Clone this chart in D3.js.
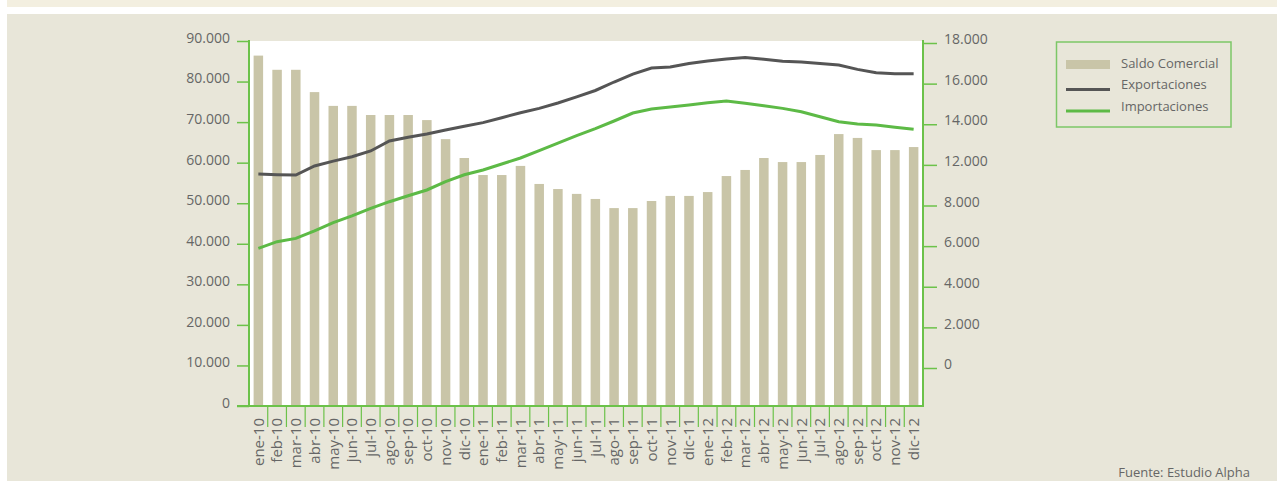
<!DOCTYPE html>
<html><head><meta charset="utf-8">
<script src="https://cdn.jsdelivr.net/npm/d3@7"></script>
<style>
body{margin:0;background:#fff}
svg{display:block}
text{font-family:"Open Sans",sans-serif;fill:#666}
</style></head>
<body><svg id="c" width="1277" height="481"></svg>
<script>
const categories = ["ene-10","feb-10","mar-10","abr-10","may-10","jun-10","jul-10","ago-10","sep-10","oct-10","nov-10","dic-10",
"ene-11","feb-11","mar-11","abr-11","may-11","jun-11","jul-11","ago-11","sep-11","oct-11","nov-11","dic-11",
"ene-12","feb-12","mar-12","abr-12","may-12","jun-12","jul-12","ago-12","sep-12","oct-12","nov-12","dic-12"];
const saldoComercial = [86400,82900,82900,77400,74000,74000,71750,71750,71750,70500,65800,61150,
56950,56950,59200,54750,53500,52300,51050,48800,48800,50550,51800,51800,
52750,56700,58200,61150,60150,60150,61900,67050,66100,63100,63100,63850];
const exportaciones = [10740,10705,10690,11190,11460,11700,12020,12570,12780,12960,13180,13390,
13590,13860,14140,14380,14680,15020,15370,15840,16280,16610,16670,16860,
17000,17110,17200,17100,16990,16950,16870,16780,16540,16350,16300,16300];
const importaciones = [6630,6995,7180,7600,8050,8430,8845,9210,9540,9860,10320,10700,
10965,11300,11630,12045,12460,12875,13260,13680,14120,14345,14455,14565,
14690,14785,14660,14525,14380,14195,13915,13640,13510,13455,13330,13220];
const leftTicks = [0,10000,20000,30000,40000,50000,60000,70000,80000,90000];
const rightTickLabels = ["0","2.000","4.000","6.000","8.000","12.000","14.000","16.000","18.000"];
const legendLabels = ["Saldo Comercial","Exportaciones","Importaciones"];
const sourceText = "Fuente: Estudio Alpha";

const GREEN_AXIS = "#6cc24a", BAR = "#c9c5a8", DARK = "#555555", GREEN = "#5dba46";
const svg = d3.select("#c");

// backgrounds
svg.append("rect").attr("x",7).attr("y",0).attr("width",1270).attr("height",7).attr("fill","#f3efe0");
svg.append("rect").attr("x",7).attr("y",14).attr("width",1270).attr("height",467).attr("fill","#e8e6d9");

const L = 249, R = 923, T = 41, B = 406;
svg.append("rect").attr("x",L).attr("y",T).attr("width",R-L).attr("height",B-T).attr("fill","#fff");

const xc = d3.scaleBand().domain(categories).range([L, R]);
const yL = d3.scaleLinear().domain([0, 90000]).range([B, T]);
const yR = d3.scaleLinear().domain([0, 18000]).range([368, 43]);
const yRticks = d3.scalePoint().domain(rightTickLabels).range([368, 43]);

// bars
svg.append("g").selectAll("rect").data(saldoComercial).join("rect")
  .attr("x",(d,i)=>xc(categories[i]) + xc.bandwidth()/2 - 4.75)
  .attr("width",9.5)
  .attr("y",d=>yL(d)).attr("height",d=>B-yL(d)).attr("fill",BAR);

// lines
const line = d3.line().x((d,i)=>xc(categories[i])+xc.bandwidth()/2).y(d=>yR(d));
svg.append("path").datum(exportaciones).attr("d",line).attr("fill","none").attr("stroke",DARK).attr("stroke-width",3);
svg.append("path").datum(importaciones).attr("d",line).attr("fill","none").attr("stroke",GREEN).attr("stroke-width",3);

// left axis
const gl = svg.append("g").attr("transform",`translate(${L},0)`)
  .call(d3.axisLeft(yL).tickValues(leftTicks).tickSize(12).tickPadding(7)
    .tickFormat(d=>d===0?"0":d3.format(",")(d).replace(/,/g,".")));
gl.select(".domain").remove();
gl.selectAll(".tick line").attr("stroke",GREEN_AXIS).attr("stroke-width",1.5);
gl.selectAll("text").style("font-size","14px").attr("fill","#666").attr("dy","0.1em");

// right axis
const gr = svg.append("g").attr("transform",`translate(${R},0)`)
  .call(d3.axisRight(yRticks).tickSize(14).tickPadding(7));
gr.select(".domain").remove();
gr.selectAll(".tick line").attr("stroke",GREEN_AXIS).attr("stroke-width",1.5);
gr.selectAll("text").style("font-size","14px").attr("fill","#666").attr("dy","0.05em");

// frame lines
svg.append("line").attr("x1",L).attr("x2",L).attr("y1",T-1).attr("y2",B).attr("stroke",GREEN_AXIS).attr("stroke-width",2);
svg.append("line").attr("x1",R).attr("x2",R).attr("y1",T-1).attr("y2",B).attr("stroke",GREEN_AXIS).attr("stroke-width",2);
svg.append("line").attr("x1",237).attr("x2",R+1).attr("y1",B).attr("y2",B).attr("stroke",GREEN_AXIS).attr("stroke-width",2);

// x axis separators and labels
const gx = svg.append("g");
gx.selectAll("line").data(categories.slice(1)).join("line")
  .attr("x1",d=>xc(d)).attr("x2",d=>xc(d)).attr("y1",B).attr("y2",427)
  .attr("stroke",GREEN_AXIS).attr("stroke-width",1.2);
gx.selectAll("text").data(categories).join("text")
  .attr("transform",d=>`translate(${xc(d)+xc.bandwidth()/2},418) rotate(-90)`)
  .attr("text-anchor","end").attr("dy","0.35em")
  .style("font-size","15px").text(d=>d);

// legend
const lg = svg.append("g");
lg.append("rect").attr("x",1056.5).attr("y",42).attr("width",174.5).attr("height",85)
  .attr("fill","none").attr("stroke","#7cc767").attr("stroke-width",1.5);
lg.append("rect").attr("x",1066).attr("y",60).attr("width",44).attr("height",9).attr("fill",BAR);
lg.append("line").attr("x1",1066).attr("x2",1110).attr("y1",89.5).attr("y2",89.5).attr("stroke",DARK).attr("stroke-width",3);
lg.append("line").attr("x1",1066).attr("x2",1110).attr("y1",111).attr("y2",111).attr("stroke",GREEN).attr("stroke-width",3);
lg.selectAll("text").data(legendLabels).join("text")
  .attr("x",1121).attr("y",(d,i)=>[63,84,106][i]).attr("dy","0.35em")
  .style("font-size","13px").text(d=>d);

// source
svg.append("text").attr("x",1250).attr("y",477).attr("text-anchor","end")
  .style("font-size","13px").text(sourceText);
</script>
</body></html>
